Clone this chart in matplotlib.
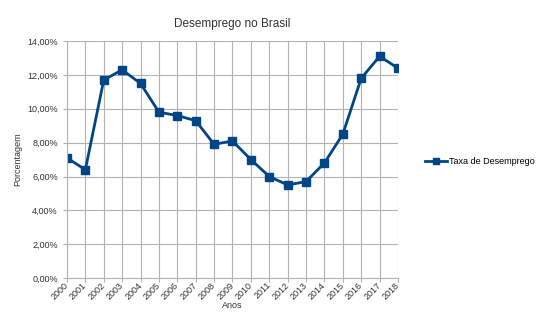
import matplotlib.pyplot as plt
from matplotlib.ticker import FuncFormatter, MultipleLocator

plt.rcParams['font.family'] = ['Liberation Sans', 'DejaVu Sans']

anos = list(range(2000, 2019))
taxa = [7.1, 6.4, 11.7, 12.3, 11.5, 9.8, 9.6, 9.3, 7.9, 8.1,
        7.0, 6.0, 5.5, 5.7, 6.8, 8.5, 11.8, 13.1, 12.4]

fig = plt.figure(figsize=(5.4, 3.26), dpi=100)
ax = fig.add_axes([0.124, 0.147, 0.613, 0.727])

ax.plot(anos, taxa, color='#004586', lw=2, marker='s', ms=5.5,
        label='Taxa de Desemprego')

ax.set_xlim(2000, 2018)
ax.set_ylim(0, 14)
ax.set_xticks(anos)
ax.set_xticklabels([str(a) for a in anos], rotation=45, fontsize=6.5)
ax.yaxis.set_major_locator(MultipleLocator(2))
ax.yaxis.set_major_formatter(FuncFormatter(lambda v, p: f'{v:.2f}%'.replace('.', ',')))
ax.tick_params(axis='y', labelsize=6.5, length=3, color='#b3b3b3', colors='#333333')
ax.tick_params(axis='x', length=3, color='#b3b3b3', colors='#333333', pad=1)
for lbl in ax.get_xticklabels():
    lbl.set_ha('right')
    lbl.set_rotation_mode('anchor')
    lbl.set_va('center')

ax.grid(True, color='#b3b3b3', lw=0.8)
ax.set_axisbelow(True)
for s in ['top', 'right']:
    ax.spines[s].set_visible(False)
for s in ['left', 'bottom']:
    ax.spines[s].set_color('#b3b3b3')

ax.set_title('Desemprego no Brasil', fontsize=8.5, color='#333333', pad=10)
ax.set_xlabel('Anos', fontsize=6.5, color='#333333', labelpad=0)
ax.set_ylabel('Porcentagem', fontsize=6.5, color='#333333')

fig.legend(loc='center left', bbox_to_anchor=(0.787, 0.505), frameon=False,
           fontsize=6.5, handlelength=2.4, handletextpad=0.25, markerscale=0.8,
           borderpad=0, borderaxespad=0)

fig.savefig('out.png', dpi=100)
